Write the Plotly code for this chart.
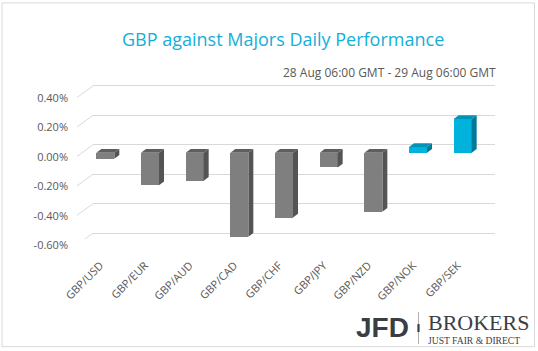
import plotly.graph_objects as go

# ---- data ----
categories = ["GBP/USD", "GBP/EUR", "GBP/AUD", "GBP/CAD", "GBP/CHF",
              "GBP/JPY", "GBP/NZD", "GBP/NOK", "GBP/SEK"]
performance = [-0.04, -0.22, -0.19, -0.57, -0.44, -0.10, -0.40, 0.04, 0.23]
y_tick_values = [-0.6, -0.4, -0.2, 0.0, 0.2, 0.4]
y_tick_labels = ["-0.60%", "-0.40%", "-0.20%", "0.00%", "0.20%", "0.40%"]
title_text = "GBP against Majors Daily Performance"
subtitle_text = "28 Aug 06:00 GMT - 29 Aug 06:00 GMT"

# ---- layout geometry ----
W_FIG, H_FIG = 538, 351
L, R = 93, 43
Y_RANGE = [-0.64, 0.42]
PX_PER_PCT = 148.0
T = 82.54
PH = (Y_RANGE[1] - Y_RANGE[0]) * PX_PER_PCT
B = H_FIG - T - PH
PW = W_FIG - L - R
PX_PER_CAT = PW / len(categories)

# front plane of the columns is shifted left/down relative to the back wall
front_dx_px, front_dy_px = 10.0, 8.0
x_shift = front_dx_px / PX_PER_CAT
y_shift = front_dy_px / PX_PER_PCT

bar_w = 18.0 / PX_PER_CAT
depth_x = 5.0 / PX_PER_CAT
depth_y = 3.7 / PX_PER_PCT

GRAY_FRONT, GRAY_SIDE, GRAY_TOP = "#7f7f7f", "#545454", "#5e5e5e"
CYAN_FRONT, CYAN_SIDE, CYAN_TOP = "#00b2dc", "#007a98", "#0094b8"
TXT = "#595959"


def px_x(p):
    return (p - L) / PW


def px_y(p):
    return 1 - (p - T) / PH


idx = list(range(len(categories)))
fig = go.Figure()

fig.add_trace(go.Bar(
    x=idx, y=performance, width=bar_w,
    marker=dict(color=[CYAN_FRONT if v > 0 else GRAY_FRONT for v in performance],
                line=dict(width=0)),
    xaxis="x2", yaxis="y2", hoverinfo="skip", showlegend=False))

for i, v in zip(idx, performance):
    hi, lo = max(0.0, v), min(0.0, v)
    xl, xr = i - bar_w / 2, i + bar_w / 2
    side_c = CYAN_SIDE if v > 0 else GRAY_SIDE
    top_c = CYAN_TOP if v > 0 else GRAY_TOP
    # side face
    fig.add_trace(go.Scatter(
        x=[xr, xr, xr + depth_x, xr + depth_x, xr],
        y=[lo, hi, hi + depth_y, lo + depth_y, lo],
        fill="toself", fillcolor=side_c, mode="lines", line=dict(width=0, color=side_c),
        xaxis="x2", yaxis="y2", hoverinfo="skip", showlegend=False))
    # top face
    fig.add_trace(go.Scatter(
        x=[xl, xr, xr + depth_x, xl + depth_x, xl],
        y=[hi, hi, hi + depth_y, hi + depth_y, hi],
        fill="toself", fillcolor=top_c, mode="lines", line=dict(width=0, color=top_c),
        xaxis="x2", yaxis="y2", hoverinfo="skip", showlegend=False))

shapes = []
# perspective part of the gridlines (left wall)
for v in y_tick_values:
    shapes.append(dict(type="line", xref="paper", yref="y",
                       xsizemode="pixel", xanchor=0, x0=-16, x1=0,
                       ysizemode="pixel", yanchor=v, y0=-11.6, y1=0,
                       line=dict(color="#d9d9d9", width=1), layer="below"))
# outer border
shapes.append(dict(type="rect", xref="paper", yref="paper",
                   x0=px_x(2), x1=px_x(534.5), y0=px_y(347.7), y1=px_y(2),
                   line=dict(color="#d9d9d9", width=1), layer="below"))
# logo separator
shapes.append(dict(type="line", xref="paper", yref="paper",
                   x0=px_x(418.5), x1=px_x(418.5), y0=px_y(345), y1=px_y(313),
                   line=dict(color="#9a9a9a", width=0.8)))
shapes.append(dict(type="line", xref="paper", yref="paper",
                   x0=px_x(418.5), x1=px_x(418.5), y0=px_y(333), y1=px_y(325),
                   line=dict(color="#3a3d42", width=2.2)))

annotations = [
    dict(text=title_text, xref="paper", yref="paper", x=px_x(282.5), y=px_y(38.5),
         xanchor="center", yanchor="middle", showarrow=False,
         font=dict(family="Open Sans", size=18, color="#12afd8")),
    dict(text=subtitle_text, xref="paper", yref="paper", x=px_x(498), y=px_y(72),
         xanchor="right", yanchor="middle", showarrow=False,
         font=dict(family="Open Sans", size=12, color=TXT)),
    dict(text="<b>JFD</b>", xref="paper", yref="paper", x=px_x(354), y=px_y(328.5),
         xanchor="left", yanchor="middle", showarrow=False,
         font=dict(family="Liberation Sans", size=28, color="#3a3d42")),
    dict(text="BROKERS", xref="paper", yref="paper", x=px_x(425.5), y=px_y(323.5),
         xanchor="left", yanchor="middle", showarrow=False,
         font=dict(family="Liberation Serif", size=22, color="#3c3f44")),
    dict(text="JUST FAIR &amp; DIRECT", xref="paper", yref="paper", x=px_x(426), y=px_y(341),
         xanchor="left", yanchor="middle", showarrow=False,
         font=dict(family="Liberation Serif", size=9.6, color="#3c3f44")),
]

fig.update_layout(
    width=W_FIG, height=H_FIG,
    margin=dict(l=L, r=R, t=T, b=B, pad=0),
    paper_bgcolor="white", plot_bgcolor="white",
    showlegend=False, bargap=0,
    font=dict(family="Open Sans", color=TXT),
    xaxis=dict(range=[-0.5, len(categories) - 0.5], showgrid=False, zeroline=False,
               showticklabels=False, showline=False, fixedrange=True),
    yaxis=dict(range=Y_RANGE, tickvals=y_tick_values, ticktext=y_tick_labels,
               showgrid=True, gridcolor="#d9d9d9", gridwidth=1, zeroline=False,
               showline=False, ticks="", ticklabelstandoff=24, ticklabelshift=12,
               tickfont=dict(family="Open Sans", size=11, color=TXT)),
    xaxis2=dict(overlaying="x", anchor="y2", side="bottom",
                range=[-0.5 + x_shift, len(categories) - 0.5 + x_shift],
                tickvals=idx, ticktext=categories, tickangle=-45,
                showgrid=False, zeroline=False, showline=False, ticks="",
                ticklabelstandoff=17, ticklabelshift=-5,
                tickfont=dict(family="Open Sans", size=11, color=TXT)),
    yaxis2=dict(overlaying="y", anchor="x2", side="left",
                range=[Y_RANGE[0] + y_shift, Y_RANGE[1] + y_shift],
                showgrid=False, zeroline=False, showline=False,
                showticklabels=False, ticks=""),
    shapes=shapes, annotations=annotations,
)

fig.write_html("out.html")
